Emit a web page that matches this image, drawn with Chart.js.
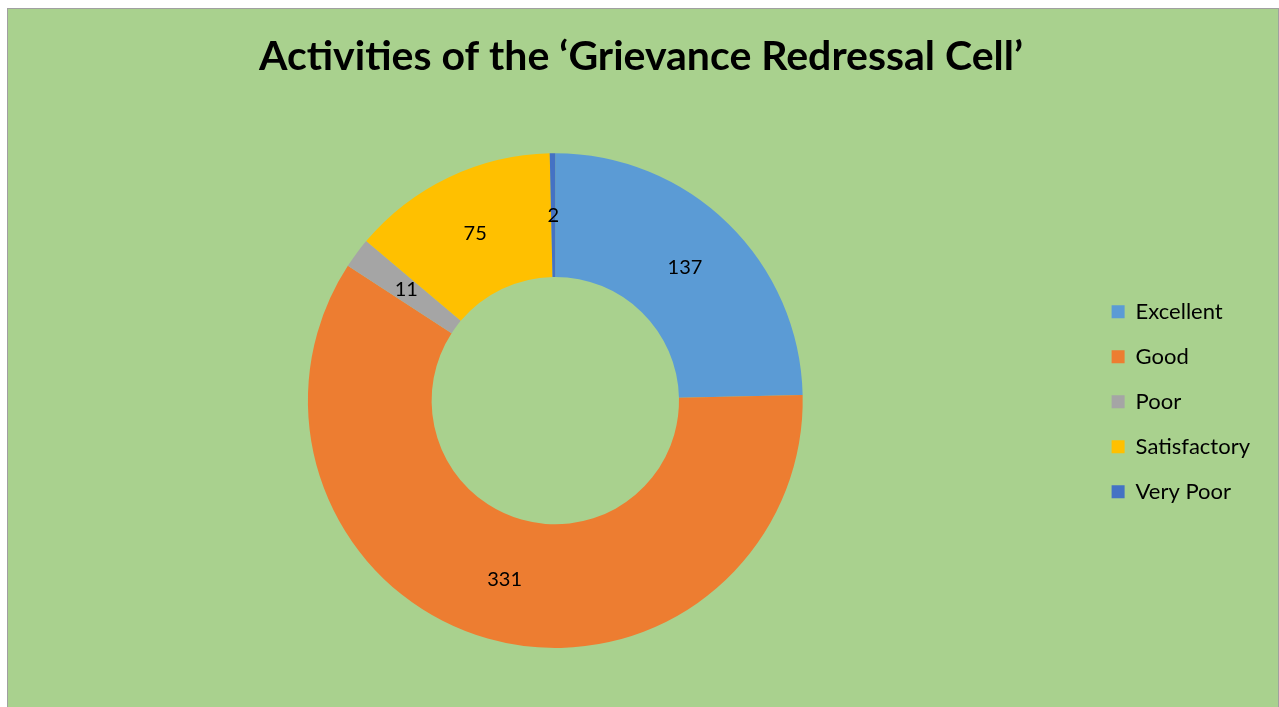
<!DOCTYPE html>
<html>
<head>
<meta charset="utf-8">
<script src="https://cdn.jsdelivr.net/npm/chart.js@4/dist/chart.umd.min.js"></script>
<style>
  body { margin: 0; background: #ffffff; overflow: hidden; }
  #box {
    position: absolute; left: 7px; top: 8px;
    width: 1270px; height: 720px;
    border: 1px solid #a0a0a0;
    background: #A9D18E;
  }
  #grafico { display: block; }
</style>
</head>
<body>
<div id="box"><canvas id="grafico" width="1270" height="699"></canvas></div>
<script>
const titulo = 'Activities of the \u2018Grievance Redressal Cell\u2019';
const categorias = ['Excellent', 'Good', 'Poor', 'Satisfactory', 'Very Poor'];
const valores = [137, 331, 11, 75, 2];
const colores = ['#5B9BD5', '#ED7D31', '#A5A5A5', '#FFC000', '#4472C4'];

// etiquetas con el valor en medio de cada sector
const etiquetas = {
    id: 'etiquetas',
    afterDatasetsDraw(chart) {
        const ctx = chart.ctx;
        const meta = chart.getDatasetMeta(0);
        ctx.save();
        ctx.font = '20px Lato';
        ctx.fillStyle = '#000000';
        ctx.textAlign = 'center';
        ctx.textBaseline = 'middle';
        meta.data.forEach((arc, i) => {
            const pos = arc.tooltipPosition();
            ctx.fillText(valores[i], pos.x, pos.y);
        });
        ctx.restore();
    }
};

const ctx = document.getElementById('grafico').getContext('2d');
window.grafico = new Chart(ctx, {
    type: 'doughnut',
    data: {
        labels: categorias,
        datasets: [{
            data: valores,
            backgroundColor: colores,
            borderWidth: 0
        }]
    },
    options: {
        responsive: false,
        animation: false,
        cutout: '50%',
        layout: { padding: { left: 14, right: 18, top: 0, bottom: 60 } },
        plugins: {
            title: {
                display: true,
                text: titulo,
                color: '#000000',
                font: { family: 'Lato', size: 41, weight: 'bold' },
                padding: { top: 23, bottom: 72 }
            },
            legend: {
                position: 'right',
                title: { display: true, text: ' ', font: { size: 12 }, padding: 66 },
                labels: {
                    color: '#000000',
                    font: { family: 'Lato', size: 22 },
                    boxWidth: 13,
                    boxHeight: 13,
                    padding: 23
                }
            },
            tooltip: { enabled: false }
        }
    },
    plugins: [etiquetas]
});
</script>
</body>
</html>
